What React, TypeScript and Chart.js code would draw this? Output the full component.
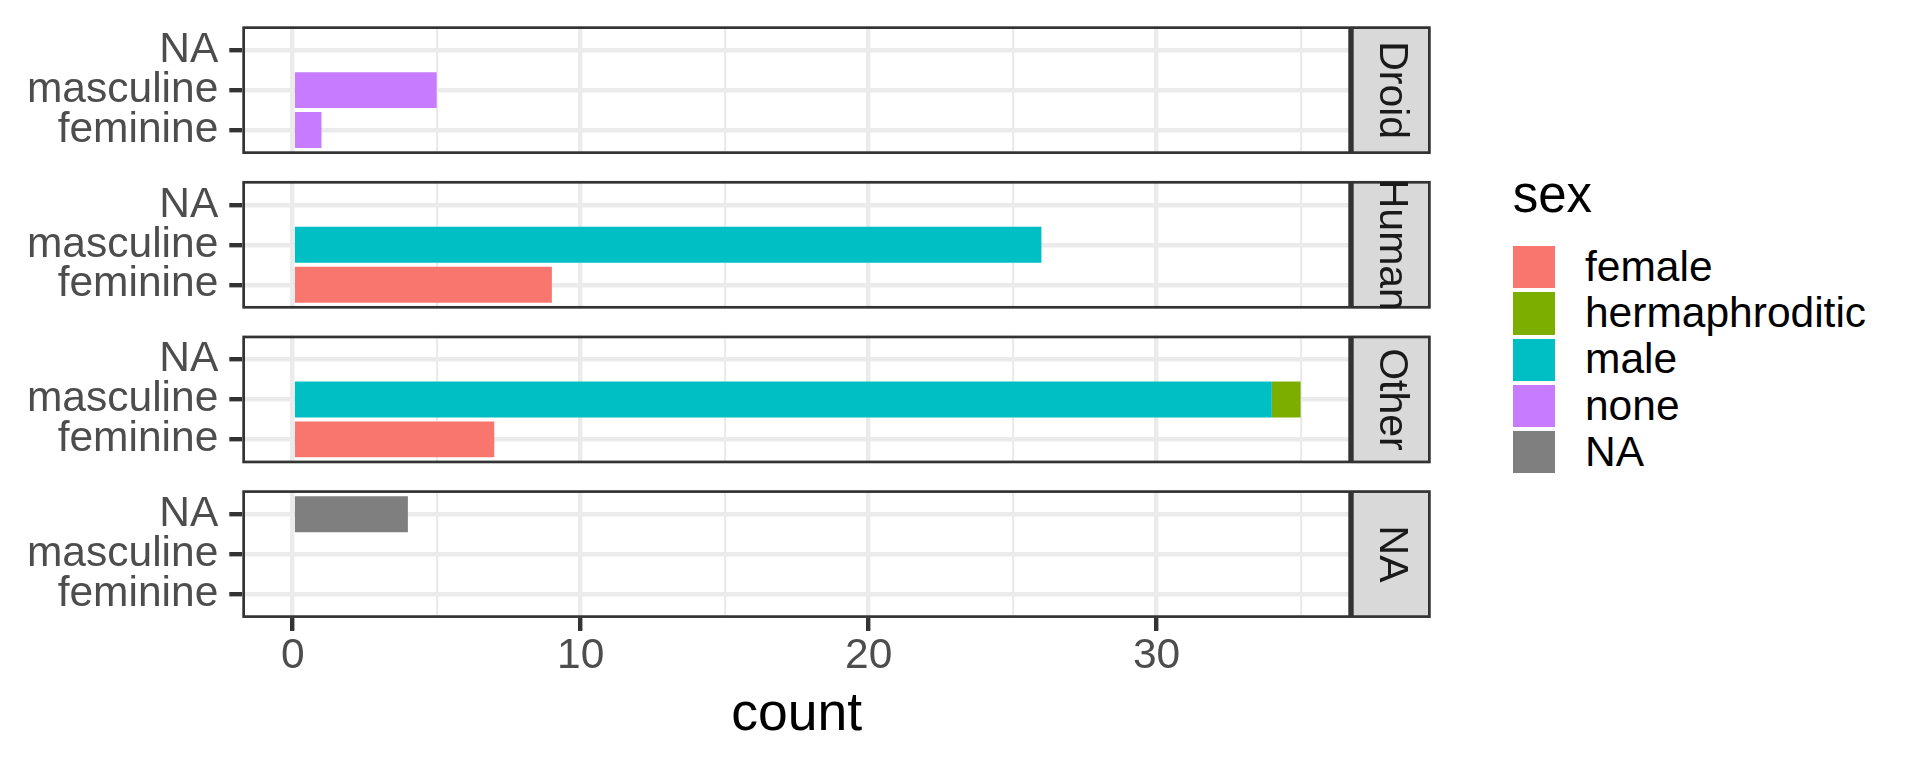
import React, { useEffect, useRef } from 'react';
import { Chart, registerables } from 'chart.js';

Chart.register(...registerables);

// ---------- data ----------
const facets = ['Droid', 'Human', 'Other', 'NA'];
const genders = ['feminine', 'masculine', 'NA']; // bottom -> top
const sexes = ['female', 'hermaphroditic', 'male', 'none', 'NA'];
const sexColors = ['#F8766D', '#7CAE00', '#00BFC4', '#C77CFF', '#7F7F7F'];

// counts[facet][gender] with gender order [feminine, masculine, NA]
const femaleCounts = [[0, 0, 0], [9, 0, 0], [7, 0, 0], [0, 0, 0]];
const hermaphroditicCounts = [[0, 0, 0], [0, 0, 0], [0, 1, 0], [0, 0, 0]];
const maleCounts = [[0, 0, 0], [0, 26, 0], [0, 34, 0], [0, 0, 0]];
const noneCounts = [[1, 5, 0], [0, 0, 0], [0, 0, 0], [0, 0, 0]];
const naCounts = [[0, 0, 0], [0, 0, 0], [0, 0, 0], [0, 0, 4]];

const xTickLabels = [0, 10, 20, 30];

const countsBySex = [femaleCounts, hermaphroditicCounts, maleCounts, noneCounts, naCounts];
// stacking order from the axis outward (ggplot puts the first level farthest)
const stackOrder = [4, 3, 2, 1, 0];

let maxTotal = 0;
facets.forEach((_, fi) => {
  genders.forEach((_, gi) => {
    const t = countsBySex.reduce((s, arr) => s + arr[fi][gi], 0);
    if (t > maxTotal) maxTotal = t;
  });
});
const xMin = -0.05 * maxTotal;
const xMax = maxTotal * 1.05;

// ---------- layout ----------
const FONT = '"Liberation Sans", Arial, Helvetica, sans-serif';
const AXIS_FONT = 42.5;
const TITLE_FONT = 53.5;
const PANEL_LEFT = 242.3;
const PANEL_RIGHT = 1351;
const STRIP_RIGHT = 1430.7;
const PANEL_TOP0 = 26.3;
const PANEL_PITCH = 154.65;
const PANEL_H = 127.7;
const CANVAS_W = 1440;
const BORDER_W = 2.7;
const GRID_MAJOR = 4.4;
const GRID_MINOR = 2.2;

function FacetChart({ index }: { index: number }) {
  const ref = useRef<HTMLCanvasElement>(null);
  const isLast = index === facets.length - 1;
  const panelTop = PANEL_TOP0 + index * PANEL_PITCH;
  const canvasTop = Math.floor(panelTop) - 8;
  const canvasH = isLast ? 768 - canvasTop : 144;
  const padTop = panelTop - canvasTop;
  const padBottom = isLast ? 0 : canvasH - padTop - PANEL_H;
  const xAxisH = isLast ? canvasH - padTop - PANEL_H : 0;

  useEffect(() => {
    if (!ref.current) return;
    const datasets = stackOrder.map((si) => ({
      label: sexes[si],
      data: genders.map((_, gi) => ({ x: countsBySex[si][index][gi], y: gi + 1 })),
      backgroundColor: sexColors[si],
      borderWidth: 0,
      barPercentage: 0.9,
      categoryPercentage: 1,
      stack: 's',
    }));

    const decor = {
      id: 'panelDecor',
      afterDatasetsDraw(chart: any) {
        const { ctx, chartArea: a } = chart;
        const lw = BORDER_W;
        const h = a.bottom - a.top;
        ctx.save();
        ctx.strokeStyle = '#333333';
        ctx.lineWidth = lw;
        ctx.strokeRect(a.left + lw / 2, a.top + lw / 2, a.right - a.left - lw, h - lw);
        const sx = a.right;
        const sw = STRIP_RIGHT - a.right;
        ctx.fillStyle = '#D9D9D9';
        ctx.fillRect(sx, a.top, sw, h);
        ctx.strokeRect(sx + lw / 2, a.top + lw / 2, sw - lw, h - lw);
        ctx.beginPath();
        ctx.rect(sx, a.top, sw, h);
        ctx.clip();
        ctx.translate(sx + sw / 2, a.top + h / 2);
        ctx.rotate(Math.PI / 2);
        ctx.fillStyle = '#1A1A1A';
        ctx.font = `41px ${FONT}`;
        ctx.textAlign = 'center';
        ctx.textBaseline = 'middle';
        ctx.fillText(facets[index], 0, 0);
        ctx.restore();
      },
    };

    const chart = new Chart(ref.current, {
      type: 'bar',
      data: { datasets: datasets as any },
      plugins: [decor],
      options: {
        animation: false,
        responsive: false,
        maintainAspectRatio: false,
        indexAxis: 'y',
        events: [],
        layout: {
          padding: { left: 0, right: CANVAS_W - PANEL_RIGHT, top: padTop, bottom: padBottom },
        },
        plugins: {
          legend: { display: false },
          tooltip: { enabled: false },
        },
        scales: {
          x: {
            type: 'linear',
            stacked: true,
            offset: false,
            min: xMin,
            max: xMax,
            border: { display: false },
            grid: {
              offset: false,
              color: '#EBEBEB',
              lineWidth: (c: any) => (c.tick && xTickLabels.includes(c.tick.value) ? GRID_MAJOR : GRID_MINOR),
              drawTicks: isLast,
              tickLength: 13,
              tickWidth: GRID_MAJOR,
              tickColor: (c: any) =>
                c.tick && xTickLabels.includes(c.tick.value) ? '#333333' : 'rgba(0,0,0,0)',
            },
            ticks: {
              display: isLast,
              stepSize: 5,
              includeBounds: false,
              autoSkip: false,
              maxRotation: 0,
              padding: 0,
              color: '#4D4D4D',
              font: { family: FONT, size: AXIS_FONT },
              callback: (v: any) => (xTickLabels.includes(Number(v)) ? String(v) : ''),
            },
            title: {
              display: isLast,
              text: 'count',
              color: '#000000',
              font: { family: FONT, size: TITLE_FONT },
              padding: { top: 0, bottom: 21 },
            },
            afterFit: (s: any) => {
              s.height = xAxisH;
              s.paddingLeft = 0;
              s.paddingRight = 0;
            },
          } as any,
          y: {
            type: 'linear',
            stacked: true,
            offset: false,
            min: 0.4,
            max: genders.length + 0.6,
            border: { display: false },
            grid: {
              offset: false,
              color: '#EBEBEB',
              lineWidth: GRID_MAJOR,
              drawTicks: true,
              tickLength: 13,
              tickWidth: GRID_MAJOR,
              tickColor: '#333333',
            },
            ticks: {
              stepSize: 1,
              includeBounds: false,
              autoSkip: false,
              padding: 11,
              color: '#4D4D4D',
              font: { family: FONT, size: AXIS_FONT },
              callback: (v: any) => genders[Number(v) - 1] ?? '',
            },
            afterFit: (s: any) => {
              s.width = PANEL_LEFT;
              s.paddingTop = 0;
              s.paddingBottom = 0;
            },
          } as any,
        },
      },
    });
    return () => chart.destroy();
  }, [index]);

  return (
    <canvas
      ref={ref}
      width={CANVAS_W}
      height={canvasH}
      style={{ position: 'absolute', left: 0, top: canvasTop, width: CANVAS_W, height: canvasH }}
    />
  );
}

export default function App() {
  return (
    <div
      style={{
        position: 'absolute',
        left: 0,
        top: 0,
        width: 1920,
        height: 768,
        background: '#FFFFFF',
        overflow: 'hidden',
      }}
    >
      {facets.map((f, i) => (
        <FacetChart key={f + i} index={i} />
      ))}
      <div
        style={{
          position: 'absolute',
          left: 1512.7,
          top: 168.5,
          font: `51px ${FONT}`,
          lineHeight: '51px',
          color: '#000000',
          whiteSpace: 'nowrap',
        }}
      >
        sex
      </div>
      {sexes.map((s, i) => (
        <div
          key={s}
          style={{
            position: 'absolute',
            left: 1512.7,
            top: 246 + i * 46.25,
            height: 42.3,
            display: 'flex',
            alignItems: 'center',
            whiteSpace: 'nowrap',
          }}
        >
          <div style={{ width: 42.3, height: 42.3, background: sexColors[i] }} />
          <div
            style={{
              marginLeft: 30,
              font: `${AXIS_FONT}px ${FONT}`,
              lineHeight: `${AXIS_FONT}px`,
              color: '#000000',
            }}
          >
            {s}
          </div>
        </div>
      ))}
    </div>
  );
}
